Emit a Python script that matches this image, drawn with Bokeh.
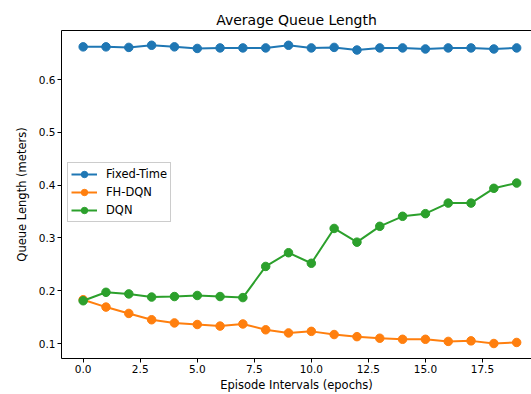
from bokeh.plotting import figure
from bokeh.models import FixedTicker, PrintfTickFormatter, Range1d, Legend, LegendItem, LinearAxis
from bokeh.embed import file_html
from bokeh.resources import INLINE

episodes = list(range(20))
fixed_time = [0.662, 0.662, 0.661, 0.665, 0.662, 0.659, 0.660, 0.660, 0.660, 0.665,
              0.660, 0.661, 0.656, 0.660, 0.660, 0.658, 0.660, 0.660, 0.658, 0.660]
fh_dqn = [0.183, 0.169, 0.157, 0.145, 0.139, 0.136, 0.133, 0.137, 0.126, 0.120,
          0.123, 0.117, 0.113, 0.110, 0.108, 0.108, 0.104, 0.105, 0.100, 0.102]
dqn = [0.181, 0.197, 0.194, 0.188, 0.189, 0.191, 0.189, 0.187, 0.246, 0.272,
       0.252, 0.318, 0.292, 0.322, 0.341, 0.346, 0.366, 0.366, 0.394, 0.404]
series_names = ["Fixed-Time", "FH-DQN", "DQN"]
colors = ["#1f77b4", "#ff7f0e", "#2ca02c"]
x_ticks = [0.0, 2.5, 5.0, 7.5, 10.0, 12.5, 15.0, 17.5]
y_ticks = [0.1, 0.2, 0.3, 0.4, 0.5, 0.6]

FONT = "DejaVu Sans"

p = figure(width=531, height=394, output_backend="svg", toolbar_location=None,
           x_range=Range1d(-0.95, 19.65), y_range=Range1d(0.0716, 0.693),
           min_border_left=61, min_border_right=0, min_border_top=30, min_border_bottom=36,
           title="Average Queue Length")
p.title.align = "center"
p.title.text_font = FONT
p.title.text_font_size = "14px"
p.title.text_font_style = "normal"
p.title.text_color = "black"
p.title.standoff = 6

p.xgrid.visible = False
p.ygrid.visible = False
p.outline_line_color = None

xax = p.below[0]
yax = p.left[0]

for ax in (xax, yax):
    ax.axis_line_color = "black"
    ax.minor_tick_line_color = None
    ax.major_tick_in = 0
    ax.major_tick_out = 4
    ax.major_tick_line_color = "black"
    ax.major_label_text_font = FONT
    ax.major_label_text_font_size = "10.5px"
    ax.major_label_text_color = "black"
    ax.axis_label_text_font = FONT
    ax.axis_label_text_font_size = "11.5px"
    ax.axis_label_text_font_style = "normal"
    ax.axis_label_text_color = "black"
    ax.major_label_standoff = 2
    ax.axis_label_standoff = 2
yax.axis_label_standoff = 7

top_axis = LinearAxis(ticker=FixedTicker(ticks=[]), major_tick_line_color=None,
                      minor_tick_line_color=None, major_tick_out=0, major_tick_in=0,
                      minor_tick_out=0, major_label_standoff=0, axis_label_standoff=0,
                      major_label_text_font_size="1px", axis_line_color="black")
p.add_layout(top_axis, "above")

xax.ticker = FixedTicker(ticks=x_ticks)
yax.ticker = FixedTicker(ticks=y_ticks)
xax.formatter = PrintfTickFormatter(format="%.1f")
yax.formatter = PrintfTickFormatter(format="%.1f")
xax.axis_label = "Episode Intervals (epochs)"
yax.axis_label = "Queue Length (meters)"

items = []
for name, vals, c in zip(series_names, [fixed_time, fh_dqn, dqn], colors):
    l = p.line(episodes, vals, line_color=c, line_width=2)
    s = p.scatter(episodes, vals, size=8.5, fill_color=c, line_color=c)
    items.append(LegendItem(label=name, renderers=[l, s]))

legend = Legend(items=items, location=(6, 136))
legend.label_text_font = FONT
legend.label_text_font_size = "11.5px"
legend.label_text_color = "black"
legend.border_line_color = "#cccccc"
legend.border_line_alpha = 1
legend.background_fill_alpha = 0.8
legend.padding = 3
legend.spacing = 2
legend.margin = 0
legend.glyph_width = 26
legend.glyph_height = 16
legend.label_height = 16
legend.label_standoff = 9
p.add_layout(legend)

open("out.html", "w").write(file_html(p, INLINE))
